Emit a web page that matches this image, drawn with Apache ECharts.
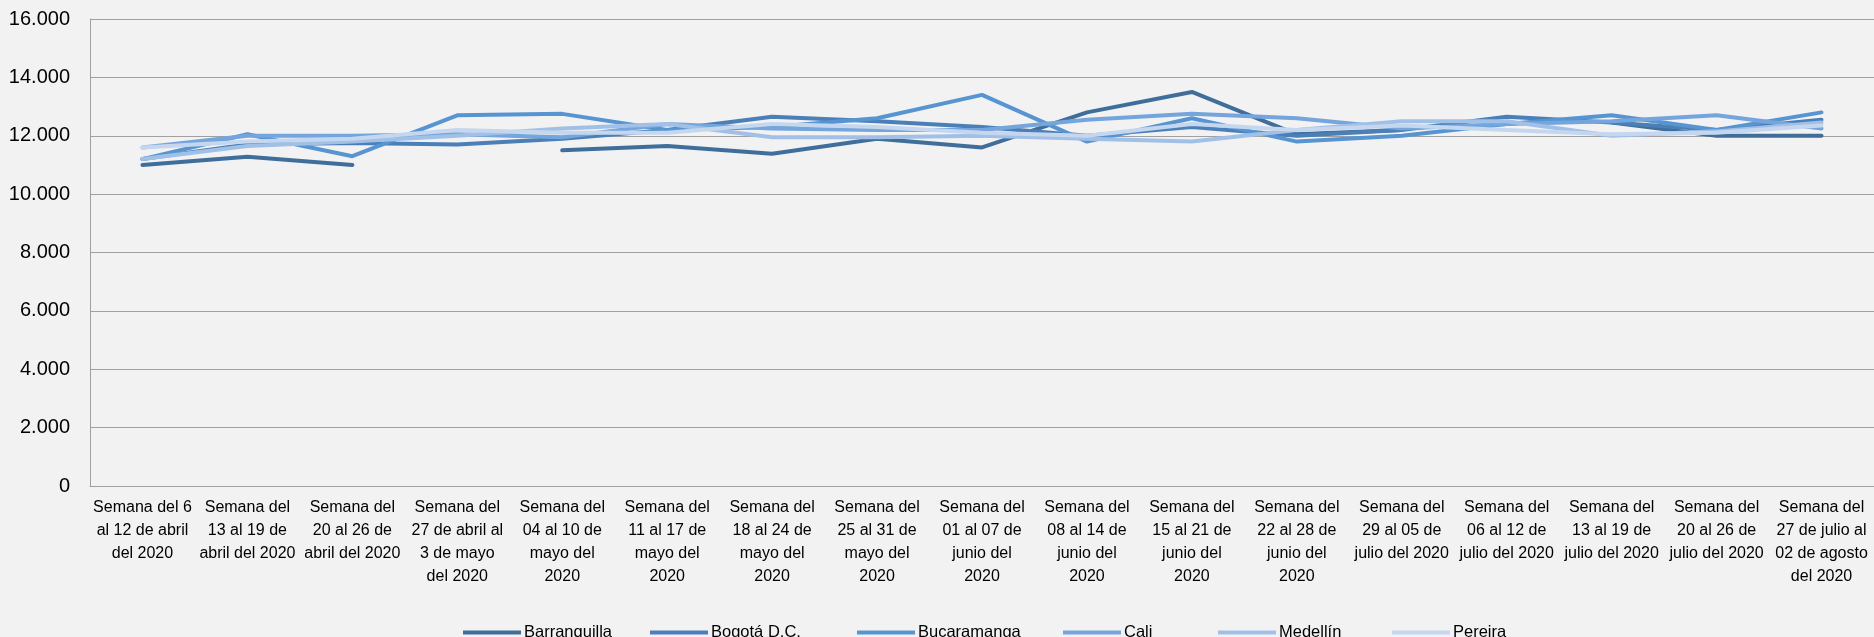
<!DOCTYPE html>
<html>
<head>
<meta charset="utf-8">
<script src="https://cdn.jsdelivr.net/npm/echarts@6/dist/echarts.min.js"></script>
<style>
html,body{margin:0;padding:0;background:#f2f2f2;}
#chart{width:1874px;height:637px;}
</style>
</head>
<body>
<div id="chart"></div>
<script>
const categories = [
  "Semana del 6\nal 12 de abril\ndel 2020",
  "Semana del\n13 al 19 de\nabril del 2020",
  "Semana del\n20 al 26 de\nabril del 2020",
  "Semana del\n27 de abril al\n3 de mayo\ndel 2020",
  "Semana del\n04 al 10 de\nmayo del\n2020",
  "Semana del\n11 al 17 de\nmayo del\n2020",
  "Semana del\n18 al 24 de\nmayo del\n2020",
  "Semana del\n25 al 31 de\nmayo del\n2020",
  "Semana del\n01 al 07 de\njunio del\n2020",
  "Semana del\n08 al 14 de\njunio del\n2020",
  "Semana del\n15 al 21 de\njunio del\n2020",
  "Semana del\n22 al 28 de\njunio del\n2020",
  "Semana del\n29 al 05 de\njulio del 2020",
  "Semana del\n06 al 12 de\njulio del 2020",
  "Semana del\n13 al 19 de\njulio del 2020",
  "Semana del\n20 al 26 de\njulio del 2020",
  "Semana del\n27 de julio al\n02 de agosto\ndel 2020"
];
const seriesNames = ["Barranquilla", "Bogotá D.C.", "Bucaramanga", "Cali", "Medellín", "Pereira"];
const barranquilla = [11000, 11280, 11000, null, 11500, 11650, 11380, 11900, 11600, 12800, 13500, 12050, 12200, null, 12450, 12000, 12000];
const bogota       = [11200, 11700, 11750, 11700, 11900, 12200, 12650, 12500, 12300, 12000, 12300, 12000, 12200, 12650, 12450, 12200, 12550];
const bucaramanga  = [11200, 12050, 11300, 12700, 12750, 12200, 12300, 12600, 13400, 11800, 12600, 11800, 12000, 12400, 12700, 12200, 12800];
const cali         = [11600, 12000, 12000, 12050, 11950, 12400, 12250, 12200, 12200, 12550, 12750, 12600, 12250, 12400, 12500, 12700, 12250];
const medellin     = [11200, 11650, 11800, 12000, 12250, 12400, 11950, 11950, 12000, 11900, 11800, 12200, 12500, 12500, 12000, 12150, 12450];
const pereira      = [11600, 11800, 11900, 12200, 12100, 12100, 12400, 12300, 12100, 12000, 12400, 12200, 12350, 12200, 12050, 12100, 12350];
const yTicks = [0, 2000, 4000, 6000, 8000, 10000, 12000, 14000, 16000];

const allValues = [barranquilla, bogota, bucaramanga, cali, medellin, pereira];
const colors = ["#3f6e9b", "#4a7fb7", "#5795d2", "#74a5dc", "#a1c0e7", "#c5d7ef"];
const legendLefts = [458, 645, 852, 1058, 1213, 1387];

function fmt(v){
  return String(v).replace(/\B(?=(\d{3})+(?!\d))/g, ".");
}

const chart = echarts.init(document.getElementById('chart'), null, {renderer:'canvas'});
chart.setOption({
  backgroundColor: '#f2f2f2',
  animation: false,
  color: colors,
  grid: {left: 90, right: 0, top: 19, bottom: 151, containLabel: false},
  legend: seriesNames.map(function(name, i){
    return {
      data: [name],
      left: legendLefts[i],
      top: 619,
      icon: 'rect',
      itemWidth: 58,
      itemHeight: 4,
      textStyle: {fontFamily: 'Liberation Sans, Arial, sans-serif', fontSize: 16.5, color: '#000', padding: [0,0,0,-2]}
    };
  }),
  xAxis: {
    type: 'category',
    data: categories,
    boundaryGap: true,
    axisLine: {show: true, lineStyle: {color: '#a0a0a0', width: 1}},
    axisTick: {show: false},
    axisLabel: {
      interval: 0,
      margin: 10,
      color: '#000',
      fontFamily: 'Liberation Sans, Arial, sans-serif',
      fontSize: 16,
      lineHeight: 23,
      align: 'center'
    }
  },
  yAxis: {
    type: 'value',
    min: yTicks[0],
    max: yTicks[yTicks.length - 1],
    interval: 2000,
    axisLine: {show: true, lineStyle: {color: '#a0a0a0', width: 1}},
    axisTick: {show: false},
    splitLine: {show: true, lineStyle: {color: '#a0a0a0', width: 1}},
    axisLabel: {
      margin: 20,
      color: '#000',
      fontFamily: 'Liberation Sans, Arial, sans-serif',
      fontSize: 20,
      formatter: function(v){ return fmt(v); }
    }
  },
  series: seriesNames.map(function(name, i){
    return {
      name: name,
      type: 'line',
      data: allValues[i],
      symbol: 'none',
      connectNulls: false,
      lineStyle: {width: 4, color: colors[i], cap: 'round', join: 'round'},
      itemStyle: {color: colors[i]}
    };
  })
});
</script>
</body>
</html>
